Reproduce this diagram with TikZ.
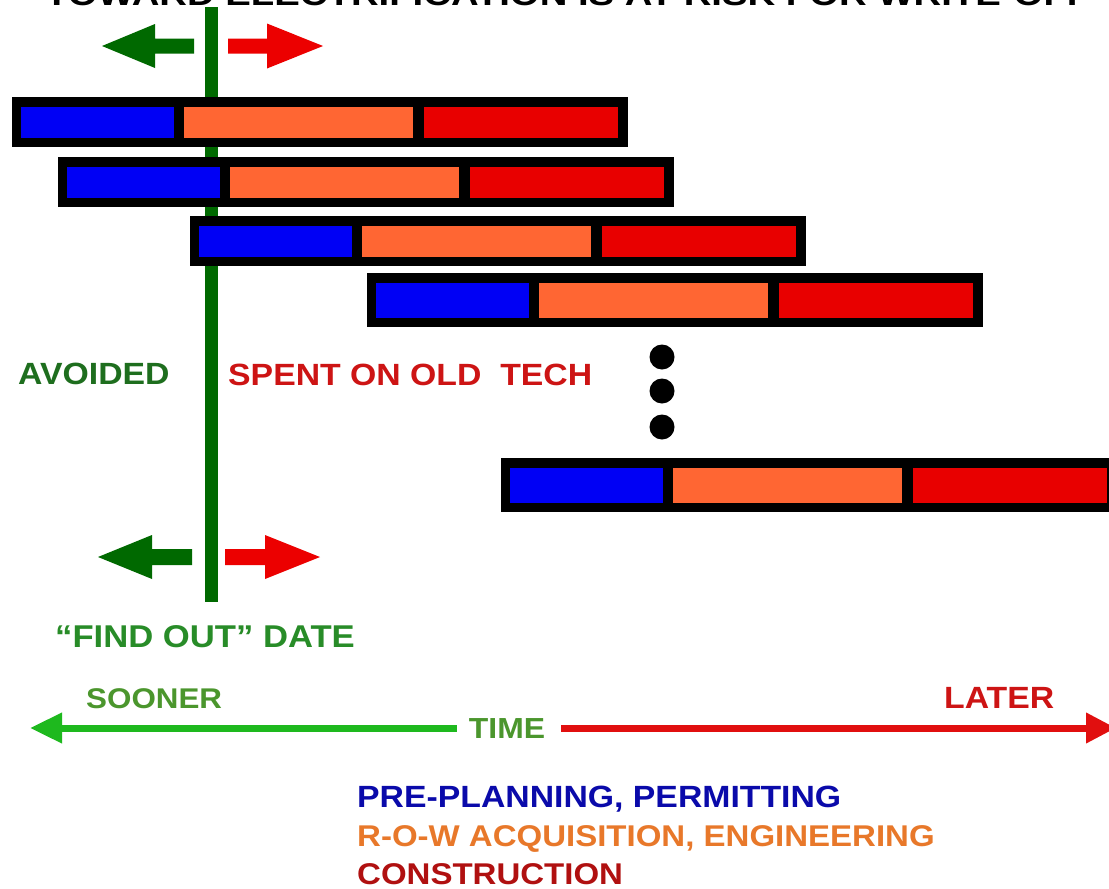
\documentclass[tikz,border=0pt]{standalone}
\usepackage{graphicx}
\usepackage{fontspec}
\setmainfont{Liberation Sans}
\newfontfamily\lbl[FakeStretch=1.1]{Liberation Sans}
\usetikzlibrary{arrows.meta}
\definecolor{barblue}{RGB}{0,0,245}
\definecolor{barorange}{RGB}{255,102,51}
\definecolor{barred}{RGB}{232,0,0}
\definecolor{dkgreen}{RGB}{0,105,0}
\definecolor{arrred}{RGB}{236,0,0}
\definecolor{txtavoid}{RGB}{30,110,30}
\definecolor{txtspent}{RGB}{205,20,20}
\definecolor{txtfind}{RGB}{40,140,40}
\definecolor{txtsoon}{RGB}{75,150,45}
\definecolor{tgreen}{RGB}{30,185,30}
\definecolor{tred}{RGB}{225,15,15}
\definecolor{legblue}{RGB}{10,10,170}
\definecolor{legorange}{RGB}{232,120,42}
\definecolor{legred}{RGB}{176,16,16}
\newcommand\drawbar[3]{%
  \begin{scope}[shift={(#1,#2)}]
    \fill[black] (0,0) rectangle (616,#3);
    \fill[barblue] (9,10) rectangle (162,#3-9);
    \fill[barorange] (172,10) rectangle (401,#3-9);
    \fill[barred] (412,10) rectangle (606,#3-9);
  \end{scope}}
\begin{document}
\begin{tikzpicture}[x=1pt,y=-1pt,
  lab/.style={inner sep=0pt, anchor=base west, font=\lbl\bfseries\fontsize{30.7}{36}\selectfont},
  dot/.style={circle, fill=black, inner sep=0pt, minimum size=25pt},
  tline/.style={line width=7pt},
]
\clip (0,0) rectangle (1109,889);
\fill[white] (0,0) rectangle (1109,889);
% cropped title
\node[anchor=base west, inner sep=0pt] (title) at (45,5)
  {\resizebox{1045pt}{22pt}{\lbl\bfseries TOWARD ELECTRIFICATION IS AT RISK FOR WRITE-OFF}};
% find-out line
\fill[dkgreen] (204.5,7) rectangle (217.5,602);
% top arrows
\fill[dkgreen] (102,46) -- (155,24) -- (155,38.5) -- (194,38.5) -- (194,53.5) -- (155,53.5) -- (155,68) -- cycle;
\fill[arrred] (323,46) -- (267,23.5) -- (267,38.5) -- (228,38.5) -- (228,53.5) -- (267,53.5) -- (267,68.5) -- cycle;
% bars
\drawbar{12}{97}{50}
\drawbar{58}{157}{50}
\drawbar{190}{216}{50}
\drawbar{367}{273}{54}
\drawbar{501}{458}{54}
% dots
\node[dot] (d1) at (662,357) {};
\node[dot] (d2) at (662,391) {};
\node[dot] (d3) at (662,427) {};
% bottom arrows
\fill[dkgreen] (98,557) -- (152,535) -- (152,549) -- (192,549) -- (192,565) -- (152,565) -- (152,579) -- cycle;
\fill[arrred] (320,557) -- (265,535) -- (265,549) -- (225,549) -- (225,565) -- (265,565) -- (265,579) -- cycle;
% labels
\node[lab, text=txtavoid] (avoided) at (18,384) {AVOIDED};
\node[lab, text=txtspent] (spent) at (228,385) {SPENT ON OLD\ \ TECH};
\node[lab, text=txtfind, font=\lbl\bfseries\fontsize{31.5}{36}\selectfont] (findout) at (55,647) {“FIND OUT” DATE};
\node[lab, text=txtsoon, font=\lbl\bfseries\fontsize{28.5}{34}\selectfont] (sooner) at (86,708) {SOONER};
\node[lab, text=txtspent] (later) at (944,708) {LATER};
% time axis
\node[lab, anchor=base, text=txtsoon, font=\lbl\bfseries\fontsize{29}{34}\selectfont] (time) at (507,738) {TIME};
\coordinate (tl) at (30,728);
\coordinate (tr) at (1116,728);
\draw[tline, tgreen, -{Triangle[length=32pt,width=29pt]}] (time.west |- tl) ++(-12,0) -- (tl);
\draw[tline, tred, -{Triangle[length=30pt,width=29pt]}] (time.east |- tr) ++(16,0) -- (tr);
% legend
\node[lab, text=legblue] (leg1) at (357,807) {PRE-PLANNING, PERMITTING};
\node[lab, text=legorange, font=\lbl\bfseries\fontsize{30}{36}\selectfont] (leg2) at (357,846) {R-O-W ACQUISITION, ENGINEERING};
\node[lab, text=legred, font=\lbl\bfseries\fontsize{30}{36}\selectfont] (leg3) at (357,884) {CONSTRUCTION};
\end{tikzpicture}
\end{document}
